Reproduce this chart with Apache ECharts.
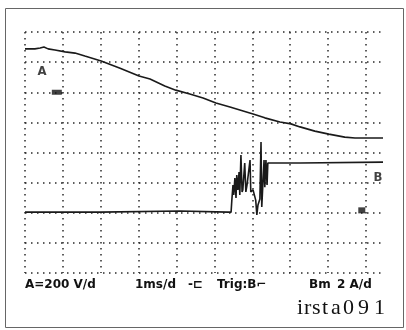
<!DOCTYPE html>
<html>
<head>
<meta charset="utf-8">
<script src="https://cdn.jsdelivr.net/npm/echarts@6/dist/echarts.min.js"></script>
<style>
  html, body { margin: 0; padding: 0; background: #fff; }
  #chart { width: 406px; height: 330px; }
</style>
</head>
<body>
<div id="chart"></div>
<script>
// scope screen: x in divisions (1 ms/div), y in divisions (+4 top .. -4 bottom)

// trace A (200 V/div)
const traceA_t = [0, 0.26, 0.40, 0.50, 0.61, 0.79, 1.06, 1.32, 1.58, 2.01, 2.51, 3.01, 3.30, 3.69, 3.98,
  4.35, 4.70, 5.04, 5.41, 6.02, 6.33, 6.73, 7.02, 7.26, 7.65, 8.02, 8.44, 8.71, 9.00, 9.45];
const traceA_y = [3.44, 3.44, 3.47, 3.50, 3.44, 3.40, 3.34, 3.30, 3.20, 3.04, 2.80, 2.54, 2.44, 2.21, 2.07,
  1.94, 1.81, 1.64, 1.51, 1.28, 1.15, 1.01, 0.95, 0.85, 0.71, 0.61, 0.51, 0.48, 0.48, 0.48];

// trace B (2 A/div)
const traceB_t = [0, 1.98, 4.09, 5.36, 5.44, 5.46, 5.49, 5.51, 5.54, 5.57, 5.59, 5.62, 5.65, 5.67, 5.70,
  5.73, 5.75, 5.80, 5.83, 5.86, 5.94, 5.96, 6.02, 6.09, 6.12, 6.15, 6.20, 6.23, 6.25, 6.31, 6.33,
  6.36, 6.39, 6.41, 7.26, 9.45];
const traceB_y = [-1.98, -1.98, -1.94, -1.98, -1.98, -1.58, -1.08, -1.41, -0.85, -1.51, -0.75, -1.24, -0.65, -1.41, -0.08,
  -1.31, -1.24, -0.35, -1.31, -1.08, -0.25, -1.31, -1.24, -1.58, -2.07, -1.74, -1.54, 0.35, -1.81, -0.25, -1.15,
  -0.25, -1.08, -0.35, -0.35, -0.32];

// ground reference markers and channel letters
const groundA = [0.84, 2.0];
const groundB = [8.89, -1.92];
const labelA = [0.45, 2.67];
const labelB = [9.32, -0.85];

// status line
const statusTexts = ['A=200 V/d', '1ms/d', '-⊏', 'Trig:B⌐', 'Bm', '2 A/d'];
const statusX = [25, 135, 188, 217, 309, 337];
const fileName = 'irsta091';
const fileCharX = [297, 304, 312, 322, 331, 343, 358, 374];

const chart = echarts.init(document.getElementById('chart'), null, { renderer: 'canvas' });

const zip = (xs, ys) => xs.map((x, i) => [x, ys[i]]);

const dotted = { color: '#2a2a2a', width: 1.5, type: [1.5, 4.5] };

const graphics = [
  {
    type: 'rect',
    shape: { x: 5.5, y: 8.5, width: 398, height: 319 },
    style: { fill: 'none', stroke: '#666', lineWidth: 1 }
  }
];
statusTexts.forEach((t, i) => {
  graphics.push({
    type: 'text',
    x: statusX[i],
    y: 285,
    style: {
      text: t,
      fill: '#111',
      font: 'bold 12px "DejaVu Sans", sans-serif',
      verticalAlign: 'middle'
    }
  });
});
fileName.split('').forEach((ch, i) => {
  graphics.push({
    type: 'text',
    x: fileCharX[i],
    y: 308,
    style: {
      text: ch,
      fill: '#111',
      font: '22px "Liberation Serif", serif',
      verticalAlign: 'middle'
    }
  });
});

chart.setOption({
  animation: false,
  backgroundColor: '#fff',
  grid: { left: 25, top: 32, width: 358, height: 241 },
  xAxis: {
    type: 'value', min: 0, max: 9.45, interval: 1,
    axisLine: { show: false }, axisTick: { show: false }, axisLabel: { show: false },
    splitLine: { show: true, showMaxLine: false, lineStyle: dotted }
  },
  yAxis: {
    type: 'value', min: -4, max: 4, interval: 1,
    axisLine: { show: false }, axisTick: { show: false }, axisLabel: { show: false },
    splitLine: { show: true, lineStyle: dotted }
  },
  series: [
    {
      name: 'A', type: 'line', data: zip(traceA_t, traceA_y),
      symbol: 'none', lineStyle: { color: '#1a1a1a', width: 1.6 }
    },
    {
      name: 'B', type: 'line', data: zip(traceB_t, traceB_y),
      symbol: 'none', lineStyle: { color: '#1a1a1a', width: 1.6 }
    },
    {
      name: 'ground', type: 'scatter', symbol: 'rect',
      data: [
        { value: groundA, symbolSize: [10, 5] },
        { value: groundB, symbolSize: [7, 6] }
      ],
      itemStyle: { color: '#111' }
    },
    {
      name: 'labels', type: 'scatter', symbolSize: 0,
      data: [
        { value: labelA, name: 'A' },
        { value: labelB, name: 'B' }
      ],
      label: {
        show: true, position: 'inside', formatter: '{b}',
        color: '#111', fontWeight: 'bold', fontSize: 13, fontFamily: 'DejaVu Sans Condensed'
      }
    }
  ],
  graphic: graphics
});
</script>
</body>
</html>
